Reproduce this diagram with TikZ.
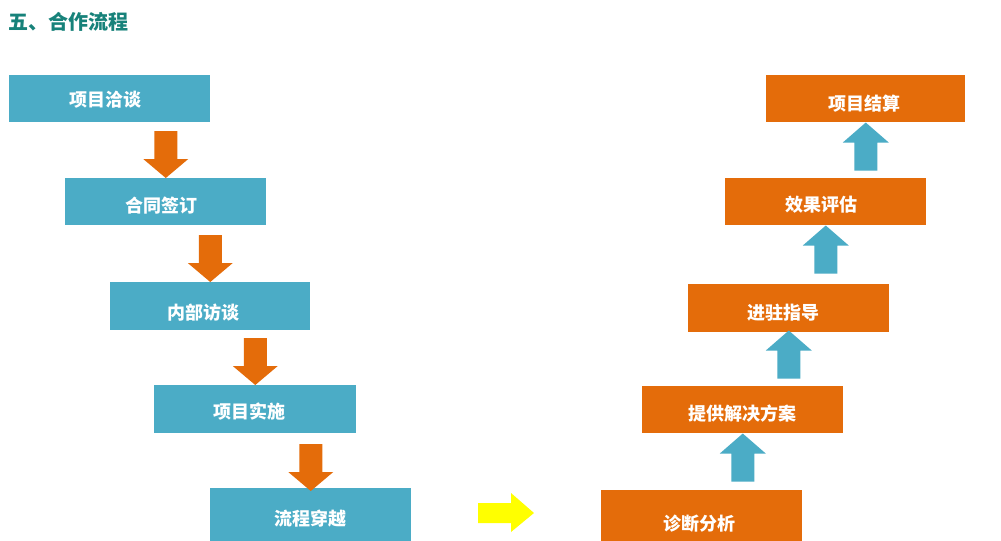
\documentclass[tikz,border=0pt]{standalone}
\usepackage{fontspec}
\setmainfont{Noto Sans CJK SC}
\definecolor{boxblue}{HTML}{4BACC6}
\definecolor{boxorange}{HTML}{E46C0A}
\definecolor{titleteal}{HTML}{17827A}
\definecolor{arrowyellow}{HTML}{FFFF00}
\begin{document}
\begin{tikzpicture}[x=0.75pt,y=-0.75pt,
  bluebox/.style={rectangle,fill=boxblue,anchor=north west,inner sep=0pt},
  orangebox/.style={rectangle,fill=boxorange,anchor=north west,inner sep=0pt},
  boxtext/.style={inner sep=0pt,text=white,font=\fontsize{13.5pt}{16pt}\selectfont\bfseries},
  downarr/.pic={\fill[boxorange] (0,0) -- (22.5,-19) -- (11.5,-19) -- (11.5,-47) -- (-11.5,-47) -- (-11.5,-19) -- (-22.5,-19) -- cycle;},
  uparr/.pic={\fill[boxblue] (0,0) -- (23,20) -- (11.5,20) -- (11.5,48) -- (-11.5,48) -- (-11.5,20) -- (-23,20) -- cycle;}
]
\clip (0,0) rectangle (1001,540);
\fill[white] (0,0) rectangle (1001,540);
\node[anchor=west,text=titleteal,inner sep=0pt,font=\fontsize{15pt}{18pt}\selectfont\bfseries] (title) at (8,22) {五、合作流程};
% left column
\node[bluebox,minimum width=201*0.75pt,minimum height=47*0.75pt] (L1) at (9,75) {};
\node[bluebox,minimum width=201*0.75pt,minimum height=47*0.75pt] (L2) at (65,178) {};
\node[bluebox,minimum width=200*0.75pt,minimum height=48*0.75pt] (L3) at (110,282) {};
\node[bluebox,minimum width=202*0.75pt,minimum height=48*0.75pt] (L4) at (154,385) {};
\node[bluebox,minimum width=201*0.75pt,minimum height=60*0.75pt] (L5) at (210,488) {};
\node[boxtext] (tL1) at ([shift={(-4,0.5)}]L1.center) {项目洽谈};
\node[boxtext] (tL2) at ([shift={(-4,3.5)}]L2.center) {合同签订};
\node[boxtext] (tL3) at ([shift={(-7,6)}]L3.center) {内部访谈};
\node[boxtext] (tL4) at ([shift={(-6,2)}]L4.center) {项目实施};
\node[boxtext] (tL5) at ([shift={(0,0)}]L5.center) {流程穿越};
\pic at (L2.north) {downarr};
\pic at (L3.north) {downarr};
\pic at (L4.north) {downarr};
\pic at ([yshift=-3*0.75pt]L5.north) {downarr};
% right column
\node[orangebox,minimum width=199*0.75pt,minimum height=47*0.75pt] (R1) at (766,75) {};
\node[orangebox,minimum width=201*0.75pt,minimum height=47*0.75pt] (R2) at (725,178) {};
\node[orangebox,minimum width=201*0.75pt,minimum height=48*0.75pt] (R3) at (688,284) {};
\node[orangebox,minimum width=201*0.75pt,minimum height=47*0.75pt] (R4) at (642,386) {};
\node[orangebox,minimum width=201*0.75pt,minimum height=66*0.75pt] (R5) at (601,490) {};
\node[boxtext] (tR1) at ([shift={(-1.5,5)}]R1.center) {项目结算};
\node[boxtext] (tR2) at ([shift={(-4.5,2.5)}]R2.center) {效果评估};
\node[boxtext] (tR3) at ([shift={(-5.5,4)}]R3.center) {进驻指导};
\node[boxtext] (tR4) at ([shift={(0,4)}]R4.center) {提供解决方案};
\node[boxtext] (tR5) at ([shift={(-2.5,0)}]R5.center) {诊断分析};
\pic at (R1.south) {uparr};
\pic at (R2.south) {uparr};
\pic at ([yshift=2*0.75pt]R3.south) {uparr};
\pic at (R4.south) {uparr};
% yellow arrow
\fill[arrowyellow] (478,503) -- (511,503) -- (511,493) -- (534,513) -- (511,532) -- (511,523) -- (478,523) -- cycle;
\end{tikzpicture}
\end{document}
